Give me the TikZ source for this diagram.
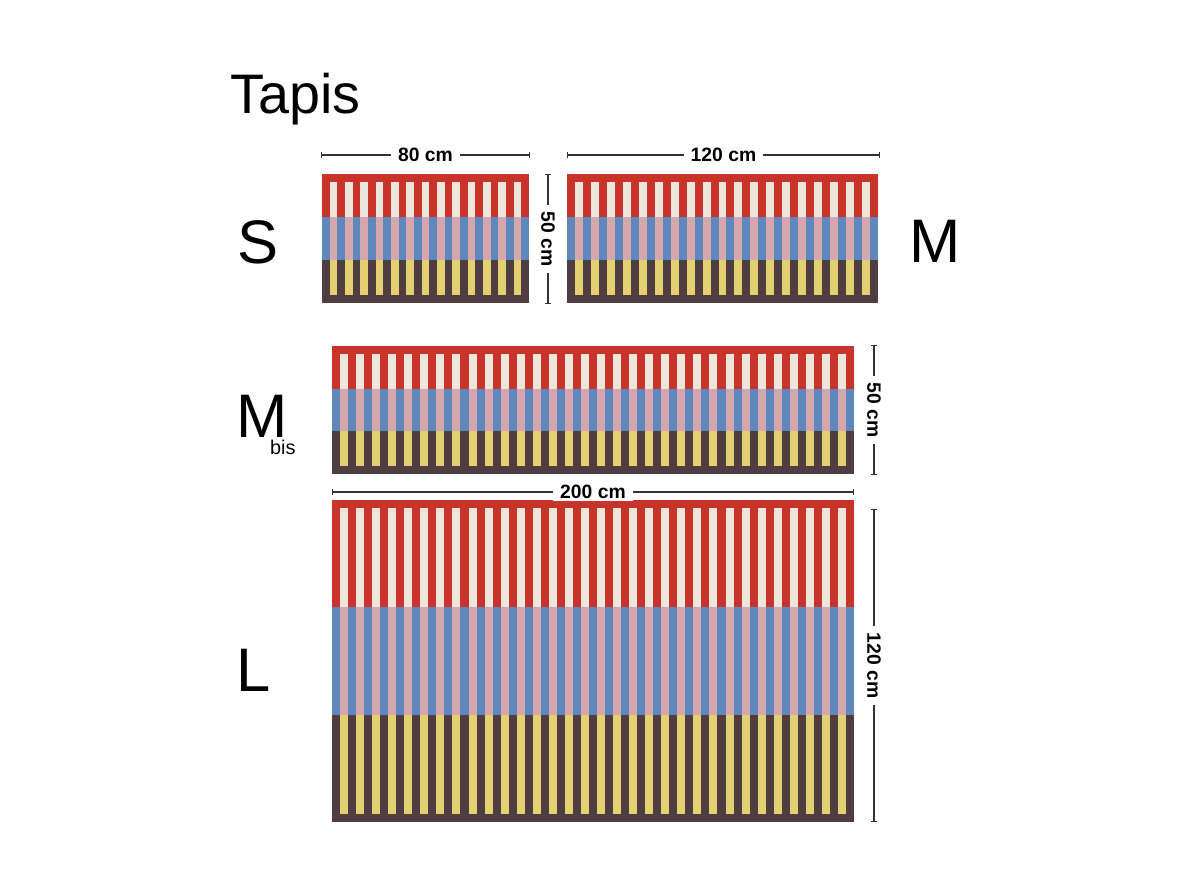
\documentclass[tikz,border=0pt]{standalone}
\usepackage{fontspec}
\setmainfont{Liberation Sans}
\usetikzlibrary{arrows.meta}

\definecolor{rouge}{HTML}{C8332A}
\definecolor{creme}{HTML}{EEE6DC}
\definecolor{bleu}{HTML}{5E87BC}
\definecolor{rose}{HTML}{D5A6AE}
\definecolor{brun}{HTML}{4F3D42}
\definecolor{jaune}{HTML}{E3D073}

% #1,#2: coin haut gauche, #3,#4: coin bas droit, #5: nombre de barres
\newcommand{\tapis}[5]{%
    \pgfmathsetmacro{\stripew}{(#3-#1)/(2*#5+1)}
    \pgfmathsetmacro{\bandh}{(#4-#2)/3}
    \fill[rouge] (#1,#2) rectangle (#3,#2+\bandh);
    \fill[bleu]  (#1,#2+\bandh) rectangle (#3,#2+2*\bandh);
    \fill[brun]  (#1,#2+2*\bandh) rectangle (#3,#4);
    \foreach \k in {1,...,#5}
    {
        \pgfmathsetmacro{\xa}{#1+(2*\k-1)*\stripew}
        \fill[creme] (\xa,#2+\stripew) rectangle ++(\stripew,\bandh-\stripew);
        \fill[rose]  (\xa,#2+\bandh) rectangle ++(\stripew,\bandh);
        \fill[jaune] (\xa,#2+2*\bandh) rectangle ++(\stripew,\bandh-\stripew);
    }
}

\begin{document}
\begin{tikzpicture}[x=0.02cm, y=-0.02cm,
    cote/.style={line width=.75pt, color=black!80, {Bar[width=3.5pt]}-{Bar[width=3.5pt]}},
    etiq/.style={fill=white, text=black, inner xsep=4pt, inner ysep=1pt, font=\fontsize{11}{13}\selectfont\bfseries},
    grand/.style={anchor=base west, inner sep=0pt, font=\fontsize{35}{40}\selectfont}]
    \useasboundingbox (0,0) rectangle (1190,892);

    % Tapis.
    \tapis{322}{174}{529}{303}{13}
    \tapis{567}{174}{878}{303}{19}
    \tapis{332}{346}{854}{474}{32}
    \tapis{332}{500}{854}{822}{32}

    % Cotes.
    \coordinate (s-g) at (321,155);
    \coordinate (s-d) at (530,155);
    \coordinate (m-g) at (567,155);
    \coordinate (m-d) at (880,155);
    \coordinate (h-h) at (548,174);
    \coordinate (h-b) at (548,304);
    \coordinate (mb-h) at (874,345);
    \coordinate (mb-b) at (874,475);
    \coordinate (l-g) at (332,492);
    \coordinate (l-d) at (854,492);
    \coordinate (l-h) at (874,509);
    \coordinate (l-b) at (874,822);

    \draw[cote] (s-g) -- node[etiq] (t80) {80 cm} (s-d);
    \draw[cote] (m-g) -- node[etiq] (t120) {120 cm} (m-d);
    \draw[cote] (h-h) -- node[etiq, rotate=-90] (t50) {50 cm} (h-b);
    \draw[cote] (mb-h) -- node[etiq, rotate=-90] (t50b) {50 cm} (mb-b);
    \draw[cote] (l-g) -- node[etiq] (t200) {200 cm} (l-d);
    \draw[cote] (l-h) -- node[etiq, rotate=-90] (t120b) {120 cm} (l-b);

    % Noms.
    \node[grand, font=\fontsize{31.7}{36}\selectfont] (titre) at (230,113) {Tapis};
    \node[grand] (nS) at (237,263) {S};
    \node[grand] (nM) at (909,262) {M};
    \node[grand] (nMb) at (236,437) {M\kern-9.9pt\raisebox{-10.2pt}{\fontsize{11.3}{13}\selectfont bis}};
    \node[grand] (nL) at (236,691) {L};
\end{tikzpicture}
\end{document}
